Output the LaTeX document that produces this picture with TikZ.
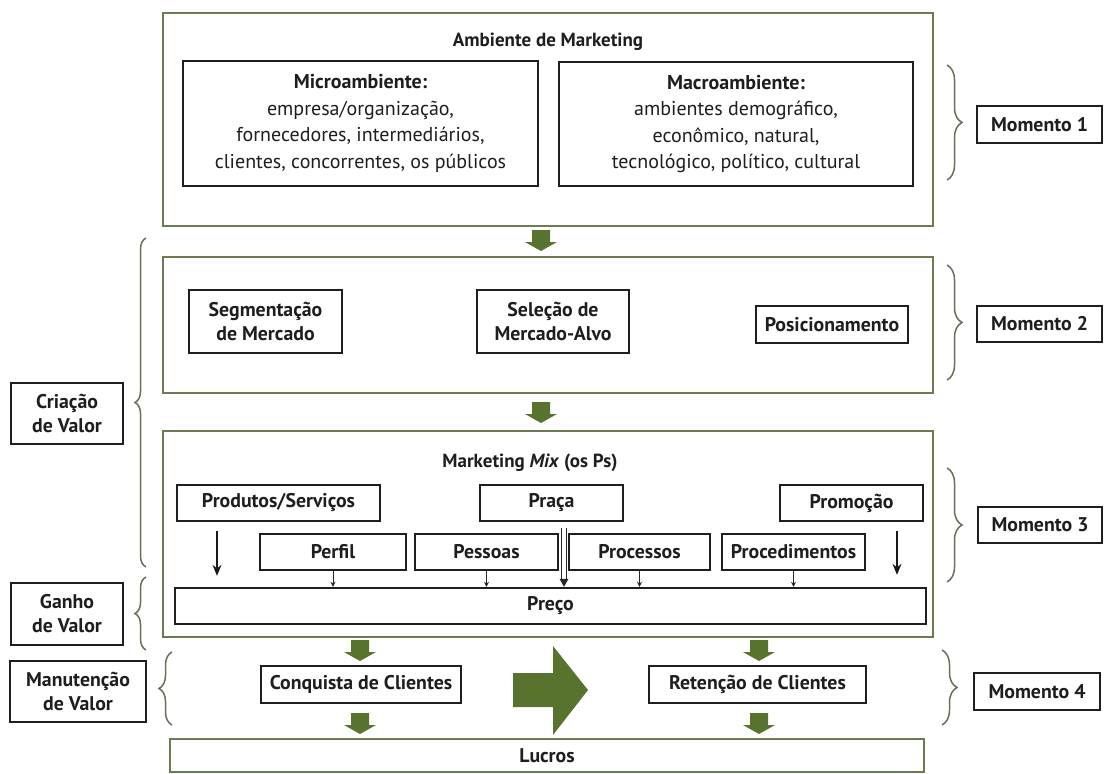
\documentclass[tikz,border=0pt]{standalone}
\usepackage{fontspec}
\setmainfont{PT Sans}
\usetikzlibrary{decorations.pathreplacing,arrows.meta,calc}
\definecolor{agreen}{RGB}{88,115,45}
\definecolor{bgreen}{RGB}{108,124,82}
\definecolor{brc}{RGB}{105,112,88}
\definecolor{txt}{RGB}{30,30,30}
\begin{document}
\begin{tikzpicture}[x=1pt,y=-1pt,
  gbox/.style={draw=bgreen, line width=2.6pt, inner sep=0pt},
  kbox/.style={draw=black!88, line width=2.4pt, inner sep=0pt, fill=white, text=txt,
    font=\bfseries\fontsize{19.8}{24}\selectfont, align=center},
  lbl/.style={text=txt, font=\bfseries\fontsize{19}{23}\selectfont, inner sep=0pt},
  sarr/.style={line width=0.8pt, draw=black!85, -{Stealth[length=5pt,width=5pt]}},
  barr/.style={line width=1.4pt, draw=black!90, -{Stealth[length=11pt,width=9pt]}},
  brace/.style={draw=brc, line width=1.5pt, decorate, decoration={brace, amplitude=#1}},
  downarr/.pic={\fill[agreen] (-9,0)--(9,0)--(9,12)--(16,12)--(0,21)--(-16,12)--(-9,12)--cycle;}
]
\useasboundingbox (0,0) rectangle (1104,774);
\fill[white] (0,0) rectangle (1104,774);

% ---- green frames
\node[gbox, minimum width=770pt, minimum height=213pt] (box1) at (548,119.5) {};
\node[gbox, minimum width=770pt, minimum height=136pt] (box2) at (548,325) {};
\node[gbox, minimum width=770pt, minimum height=206pt] (box3) at (548,534) {};
\node[gbox, minimum width=754pt, minimum height=33pt, text=txt, font=\bfseries\fontsize{19.8}{24}\selectfont] (lucros) at (547,755.5) {Lucros};

% ---- Momento 1
\node[lbl] (title1) at (548,42) {Ambiente de Marketing};
\node[kbox, minimum width=355pt, minimum height=125pt, font=\fontsize{20}{26.5}\selectfont] (micro) at (360.5,123.5)
  {\textbf{Microambiente:}\\empresa/organização,\\fornecedores, intermediários,\\clientes, concorrentes, os públicos};
\node[kbox, minimum width=354pt, minimum height=124pt, font=\fontsize{20}{26.5}\selectfont] (macro) at (736,124)
  {\textbf{Macroambiente:}\\ambientes demográfico,\\econômico, natural,\\tecnológico, político, cultural};

% ---- Momento 2
\node[kbox, minimum width=153pt, minimum height=63pt] (seg) at (265.5,321.5) {Segmentação\\de Mercado};
\node[kbox, minimum width=152pt, minimum height=63pt] (sel) at (553,321.5) {Seleção de\\Mercado-Alvo};
\node[kbox, minimum width=152pt, minimum height=37pt] (pos) at (832,324.5) {Posicionamento};

% ---- Momento 3
\node[lbl] (title3) at (530,463) {Marketing \textit{Mix} (os Ps)};
\node[kbox, minimum width=203pt, minimum height=36pt] (prod) at (278.5,503) {Produtos/Serviços};
\node[kbox, minimum width=143pt, minimum height=36pt] (praca) at (551.5,503) {Praça};
\node[kbox, minimum width=143pt, minimum height=36pt] (promo) at (851.5,503) {Promoção};
\node[kbox, minimum width=146pt, minimum height=36pt] (perfil) at (333,552) {Perfil};
\node[kbox, minimum width=143pt, minimum height=36pt] (pessoas) at (486.5,552) {Pessoas};
\node[kbox, minimum width=141pt, minimum height=36pt] (processos) at (639.5,552) {Processos};
\node[kbox, minimum width=143pt, minimum height=36pt] (proced) at (793.5,552) {Procedimentos};
\node[kbox, minimum width=751pt, minimum height=36pt] (preco) at (550.5,606) {Preço};

\draw[sarr] (perfil.south) -- (perfil.south |- preco.north);
\draw[sarr] (pessoas.south) -- (pessoas.south |- preco.north);
\draw[sarr] (processos.south) -- (processos.south |- preco.north);
\draw[sarr] (proced.south) -- (proced.south |- preco.north);

\coordinate (xa) at (217,0);
\coordinate (xb) at (897,0);
\coordinate (xc) at (564,0);
\draw[barr, shorten <=9pt, shorten >=11pt] (prod.south -| xa) -- (preco.north -| xa);
\draw[barr, shorten <=9pt, shorten >=12pt] (promo.south -| xb) -- (preco.north -| xb);
\draw[line width=0.9pt, black!85] ($(praca.south -| xc)+(-2.6,6)$) -- ($(preco.north -| xc)+(-2.6,-7)$);
\draw[line width=0.9pt, black!85] ($(praca.south -| xc)+(2.6,6)$) -- ($(preco.north -| xc)+(2.6,-7)$);
\fill[black!85] ($(preco.north -| xc)+(-4.5,-8)$) -- ($(preco.north -| xc)+(4.5,-8)$) -- (preco.north -| xc) -- cycle;

% ---- Momento 4
\node[kbox, minimum width=200pt, minimum height=37pt] (conq) at (361,684.5) {Conquista de Clientes};
\node[kbox, minimum width=217pt, minimum height=37pt] (ret) at (757.5,684.5) {Retenção de Clientes};
\fill[agreen] (513,673) -- (553,673) -- (553,646) -- (588,690) -- (553,735) -- (553,707) -- (513,707) -- cycle;

% ---- green block arrows
\pic at (541,230) {downarr};
\pic at (541,402) {downarr};
\pic at (360,640) {downarr};
\pic at (759,640) {downarr};
\pic at (360,713) {downarr};
\pic at (759,713) {downarr};

% ---- Momento labels
\node[kbox, minimum width=125pt, minimum height=37pt] (m1) at (1039.5,124.5) {Momento 1};
\node[kbox, minimum width=125pt, minimum height=36pt] (m2) at (1039.5,324) {Momento 2};
\node[kbox, minimum width=124pt, minimum height=36pt] (m3) at (1040,525) {Momento 3};
\node[kbox, minimum width=126pt, minimum height=37pt] (m4) at (1037,691.5) {Momento 4};

% ---- left labels
\node[kbox, minimum width=112pt, minimum height=61pt] (criacao) at (67,413.5) {Criação\\de Valor};
\node[kbox, minimum width=112pt, minimum height=62pt] (ganho) at (67,614) {Ganho\\de Valor};
\node[kbox, minimum width=136pt, minimum height=61pt] (manut) at (78,691.5) {Manutenção\\de Valor};

% ---- braces
\draw[brace=15pt] (947,65) -- (947,180);
\draw[brace=15pt] (947,265) -- (947,380);
\draw[brace=15pt] (947,468) -- (947,582);
\draw[brace=15pt] (942,650) -- (942,725);
\draw[brace=11pt] (146,567) -- (146,238);
\draw[brace=11pt] (146,650) -- (146,577);
\draw[brace=13pt] (172,725) -- (172,652);
\end{tikzpicture}
\end{document}
